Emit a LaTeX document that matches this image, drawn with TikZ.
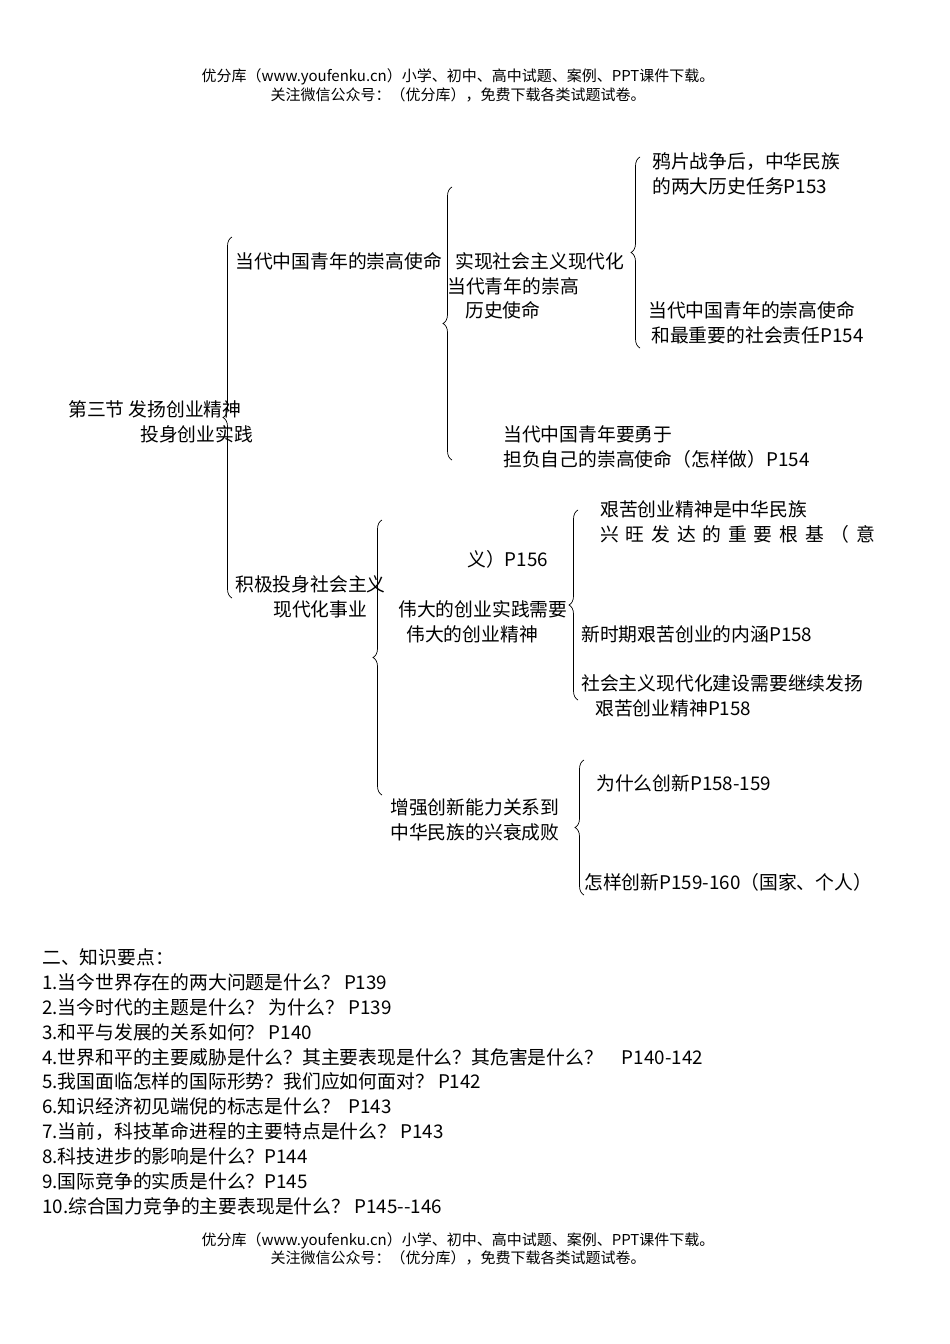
\documentclass[tikz,border=0pt]{standalone}
\usepackage{fontspec}
\setmainfont{Noto Sans CJK SC}
\usetikzlibrary{decorations.pathreplacing}
\begin{document}
\begin{tikzpicture}[x=1pt,y=-1pt,
  t/.style={anchor=base west,inner sep=0pt,font=\fontsize{18.8}{22}\selectfont},
  hd/.style={anchor=base,inner sep=0pt,font=\fontsize{15}{18}\selectfont},
  br/.style={decorate,decoration={brace,amplitude=9pt},line width=0.7pt}]
\useasboundingbox[fill=white] (0,0) rectangle (950,1344);
\node[hd] (h1) at (458,81) {优分库（www.youfenku.cn）小学、初中、高中试题、案例、PPT课件下载。};
\node[hd] (h2) at (458,100) {关注微信公众号：（优分库），免费下载各类试题试卷。};
% braces
\draw[br] (232,598) -- (232,237);
\draw[br] (452,460) -- (452,187);
\draw[br] (640,348) -- (640,157);
\draw[br] (382,795) -- (382,520);
\draw[br] (578,700) -- (578,510);
\draw[br] (584,895) -- (584,760);
% texts
\node[t] (a1) at (235,268) {当代中国青年的崇高使命};
\node[t] (b1) at (455,268) {实现社会主义现代化};
\node[t] (b2) at (447,293) {当代青年的崇高};
\node[t] (b3) at (465,317) {历史使命};
\node[t] (c1) at (652,168) {鸦片战争后，中华民族};
\node[t] (c2) at (652,193) {的两大历史任务P153};
\node[t] (c3) at (648,317) {当代中国青年的崇高使命};
\node[t] (c4) at (651,342) {和最重要的社会责任P154};
\node[t] (r1) at (68,416) {第三节 发扬创业精神};
\node[t] (r2) at (140,441) {投身创业实践};
\node[t] (d1) at (503,441) {当代中国青年要勇于};
\node[t] (d2) at (503,466) {担负自己的崇高使命（怎样做）P154};
\node[t] (a2) at (235,591) {积极投身社会主义};
\node[t] (a3) at (273,616) {现代化事业};
\node[t] (e1) at (600,516) {艰苦创业精神是中华民族};
\node[t] (e2) at (600,541) {\makebox[275pt][s]{兴\hfill 旺\hfill 发\hfill 达\hfill 的\hfill 重\hfill 要\hfill 根\hfill 基\hfill （\hfill 意}};
\node[t] (e3) at (467,566) {义）P156};
\node[t] (f1) at (398,616) {伟大的创业实践需要};
\node[t] (f2) at (406,641) {伟大的创业精神};
\node[t] (g1) at (581,641) {新时期艰苦创业的内涵P158};
\node[t] (g2) at (581,690) {社会主义现代化建设需要继续发扬};
\node[t] (g3) at (595,715) {艰苦创业精神P158};
\node[t] (k1) at (596,790) {为什么创新P158-159};
\node[t] (k2) at (390,814) {增强创新能力关系到};
\node[t] (k3) at (390,839) {中华民族的兴衰成败};
\node[t] (k4) at (584,889) {怎样创新P159-160（国家、个人）};
% list
\node[t] (l0) at (42,964) {二、知识要点：};
\node[t] (l1) at (42,989) {1.当今世界存在的两大问题是什么？ P139};
\node[t] (l2) at (42,1014) {2.当今时代的主题是什么？ 为什么？ P139};
\node[t] (l3) at (42,1039) {3.和平与发展的关系如何？ P140};
\node[t] (l4) at (42,1064) {4.世界和平的主要威胁是什么？其主要表现是什么？其危害是什么？\quad P140-142};
\node[t] (l5) at (42,1088) {5.我国面临怎样的国际形势？我们应如何面对？ P142};
\node[t] (l6) at (42,1113) {6.知识经济初见端倪的标志是什么？ \ P143};
\node[t] (l7) at (42,1138) {7.当前，科技革命进程的主要特点是什么？ P143};
\node[t] (l8) at (42,1163) {8.科技进步的影响是什么？P144};
\node[t] (l9) at (42,1188) {9.国际竞争的实质是什么？P145};
\node[t] (l10) at (42,1213) {10.综合国力竞争的主要表现是什么？ P145{-}{-}146};
\node[hd] (f1x) at (458,1245) {优分库（www.youfenku.cn）小学、初中、高中试题、案例、PPT课件下载。};
\node[hd] (f2x) at (458,1263) {关注微信公众号：（优分库），免费下载各类试题试卷。};
\end{tikzpicture}
\end{document}
